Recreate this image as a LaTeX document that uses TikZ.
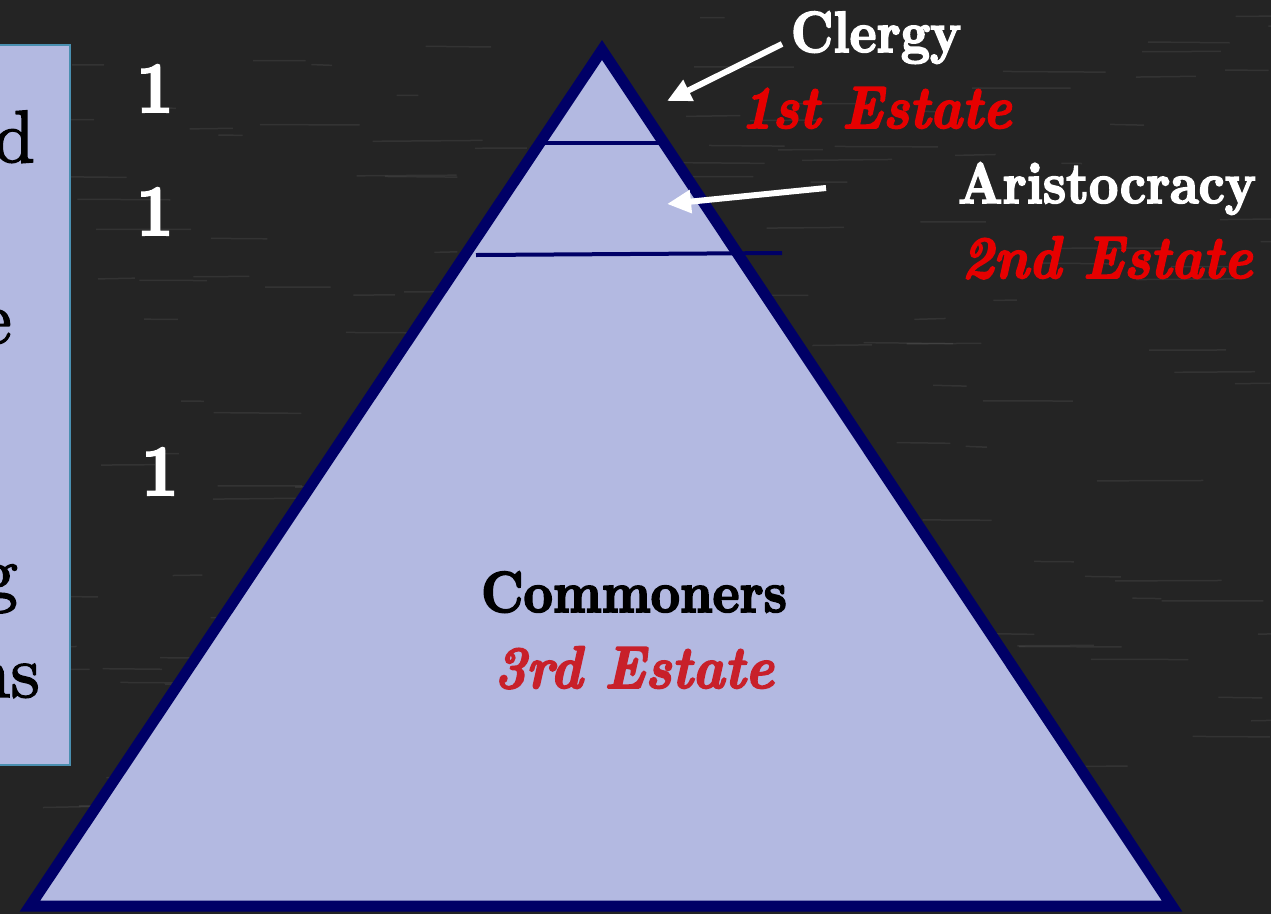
\documentclass[tikz,border=0pt]{standalone}
\usepackage{fontspec}
\usepackage{tikz}
\usetikzlibrary{arrows.meta,positioning}
\newfontfamily\heavyfont{lmroman10-bold.otf}[FakeBold=3,FakeStretch=0.88]
\newfontfamily\heavyit{lmroman10-bolditalic.otf}[FakeBold=3,FakeStretch=0.9]
\newfontfamily\cutfont{lmroman10-regular.otf}[FakeBold=2]
\definecolor{board}{HTML}{242424}
\definecolor{tierfill}{HTML}{B3B9E1}
\definecolor{tierline}{HTML}{000066}
\definecolor{boxline}{HTML}{4A8FB0}
\definecolor{estred}{HTML}{E60000}
\definecolor{thirdred}{HTML}{C8202A}

\begin{document}
\begin{tikzpicture}[x=1pt,y=1pt,
  lbl/.style={font=\heavyfont\fontsize{58}{66}\selectfont,inner sep=0pt,anchor=base},
  who/.style={lbl,text=white},
  est/.style={lbl,font=\heavyit\fontsize{60}{66}\selectfont,text=estred},
  cut/.style={font=\cutfont\fontsize{74}{80}\selectfont,inner sep=0pt,anchor=base east},
  num/.style={lbl,text=white,font=\heavyfont\fontsize{72}{80}\selectfont},
  ar/.style={-{Triangle[length=24pt,width=22pt]},line width=6pt,white}]

% board
\fill[board] (0,0) rectangle (1271,-914);
\useasboundingbox (0,0) rectangle (1271,-914);
\pgfmathsetseed{7}
\foreach \i in {1,...,160}{
  \pgfmathsetmacro{\sx}{rnd*1271}
  \pgfmathsetmacro{\sy}{-rnd*914}
  \pgfmathsetmacro{\sl}{20+rnd*90}
  \draw[white,opacity=0.07,line width=1.5pt] (\sx,\sy) -- ++(\sl,rnd*2-1);
}

% left panel (cut off)
\draw[fill=tierfill,draw=boxline,line width=2pt] (-5,-45) rectangle (70,-765);
\node[cut] (cd) at (35,-162) {d};
\node[cut] (ce) at (12,-343) {e};
\node[cut] (cg) at (18,-598) {g};
\node[cut] (cns) at (40,-697) {ns};

\node[num] (n1) at (155,-112) {1};
\node[num] (n2) at (155,-235) {1};
\node[num] (n3) at (160,-495) {1};

% pyramid
\coordinate (apex) at (602,-50);
\coordinate (bl) at (30,-906);
\coordinate (br) at (1172,-906);
\draw[fill=tierfill,draw=tierline,line width=11pt,line join=miter] (apex) -- (bl) -- (br) -- cycle;
\draw[tierline,line width=4pt] (545,-143) -- (660,-143);
\draw[tierline,line width=4pt] (476,-255) -- (782,-253);

% labels
\node[who] (clergy) at (876,-52) {Clergy};
\node[est] (first) at (876,-128) {1st Estate};
\node[who] (aristo) at (1107,-203) {Aristocracy};
\node[est] (second) at (1107,-278) {2nd Estate};
\node[lbl] (common) at (634,-612) {Commoners};
\node[est,text=thirdred] (third) at (634,-688) {3rd Estate};

% pointers
\coordinate (from1) at (782,-44);
\coordinate (to1) at (667,-101);
\coordinate (from2) at (826,-188);
\coordinate (to2) at (667,-204);
\draw[ar] (from1) -- (to1);
\draw[ar] (from2) -- (to2);
\end{tikzpicture}
\end{document}
